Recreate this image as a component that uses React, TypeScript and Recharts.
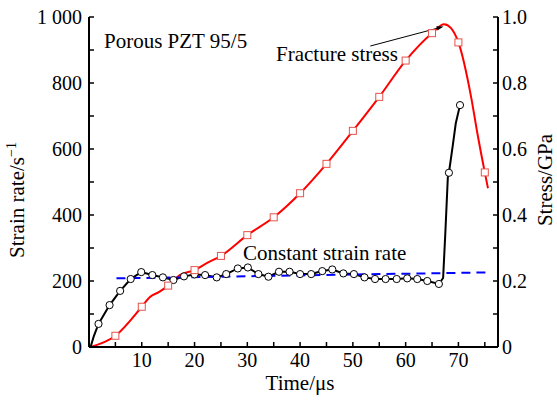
import { ComposedChart, Line, Scatter, XAxis, YAxis, ReferenceLine } from "recharts";

const FONT = '"Liberation Serif", "Times New Roman", serif';

// strain rate (left axis), black line
const strainLineTime = [0.3, 0.9, 1.8, 3.9, 5.9, 7.9, 9.9, 12, 14, 16, 18, 20, 22, 24.2, 26, 28.2, 30.1, 32.1, 34, 36, 38, 40, 42.1, 44.2, 46.1, 48.2, 50.2, 52.2, 54.2, 56.2, 58.3, 60.3, 62.2, 64.1, 66.3, 67.1, 67.5, 68.0, 68.2, 68.9, 69.5, 70.3];
const strainLineRate = [0, 32, 70, 127, 170, 206, 227, 218, 211, 203, 214, 220, 218, 211, 221, 238, 241, 221, 213, 228, 228, 221, 221, 230, 235, 223, 221, 211, 206, 206, 206, 208, 206, 200, 191, 209, 339, 516, 528, 607, 678, 733];

// open circle markers on the strain rate curve
const strainCircleTime = [1.8, 3.9, 5.9, 7.9, 9.9, 12, 14, 16, 18, 20, 22, 24.2, 26, 28.2, 30.1, 32.1, 34, 36, 38, 40, 42.1, 44.2, 46.1, 48.2, 50.2, 52.2, 54.2, 56.2, 58.3, 60.3, 62.2, 64.1, 66.3, 68.2, 70.3];
const strainCircleRate = [70, 127, 170, 206, 227, 218, 211, 203, 214, 220, 218, 211, 221, 238, 241, 221, 213, 228, 228, 221, 221, 230, 235, 223, 221, 211, 206, 206, 206, 208, 206, 200, 191, 528, 733];

// stress (right axis), red line
const stressLineTime = [0.3, 5, 10, 11.5, 13.3, 15, 17.2, 20, 22.3, 25, 30, 35, 40, 45, 50, 55, 60, 65, 67.3, 68.6, 70, 72.4, 73.6, 75, 75.6];
const stressLineValue = [0, 0.034, 0.122, 0.151, 0.167, 0.186, 0.218, 0.233, 0.254, 0.276, 0.339, 0.393, 0.466, 0.555, 0.655, 0.758, 0.868, 0.951, 0.978, 0.966, 0.923, 0.758, 0.647, 0.529, 0.481];

// square markers on the stress curve
const stressSquareTime = [5, 10, 15, 20, 25, 30, 35, 40, 45, 50, 55, 60, 65, 70, 75];
const stressSquareValue = [0.034, 0.122, 0.186, 0.233, 0.276, 0.339, 0.393, 0.466, 0.555, 0.655, 0.758, 0.868, 0.951, 0.923, 0.529];

// constant strain rate (dashed blue)
const constTime = [5.2, 75.2];
const constRate = [208, 226];

// fracture stress pointer (start, peak)
const pointerTime = [53.3, 67.2];
const pointerStress = [0.912, 0.971];

const timeTicks = [5, 10, 15, 20, 25, 30, 35, 40, 45, 50, 55, 60, 65, 70, 75];
const rateTicks = [0, 100, 200, 300, 400, 500, 600, 700, 800, 900, 1000];
const stressTicks = [0, 0.1, 0.2, 0.3, 0.4, 0.5, 0.6, 0.7, 0.8, 0.9, 1.0];

const pairs = (ts: number[], vs: number[]) => ts.map((t, i) => ({ t, v: vs[i] }));

const strainLine = pairs(strainLineTime, strainLineRate);
const strainCircles = pairs(strainCircleTime, strainCircleRate);
const stressLine = pairs(stressLineTime, stressLineValue);
const stressSquares = pairs(stressSquareTime, stressSquareValue);
const constLine = pairs(constTime, constRate);

const fmtTime = (v: number) => (v % 10 === 0 ? String(v) : "");
const fmtRate = (v: number) => (v % 200 !== 0 ? "" : v === 1000 ? "1 000" : String(v));
const fmtStress = (v: number) => {
  const k = Math.round(v * 10);
  if (k % 2 !== 0) return "";
  return k === 0 ? "0" : v.toFixed(1);
};

const axisLine = { stroke: "#000", strokeWidth: 2 };
const tickLine = { stroke: "#000", strokeWidth: 1.5 };

// serif tick labels drawn by hand so the font sticks
const makeTick = (fmt: (v: number) => string, anchor: string, dy: string) => (p: any) => (
  <text
    x={p.x}
    y={p.y}
    dy={dy}
    textAnchor={anchor}
    fontFamily={FONT}
    fontSize={20}
    fill="#000"
    style={{ whiteSpace: "pre" }}
  >
    {fmt(p.payload.value)}
  </text>
);

const TimeTick = makeTick(fmtTime, "middle", "0.71em");
const RateTick = makeTick(fmtRate, "end", "0.36em");
const StressTick = makeTick(fmtStress, "start", "0.36em");

const Circle = (p: any) => (
  <circle cx={p.cx} cy={p.cy} r={3.6} fill="#fff" stroke="#000" strokeWidth={1} />
);

const Square = (p: any) => (
  <rect x={p.cx - 3.5} y={p.cy - 3.5} width={7} height={7} fill="#fff" stroke="#e5534b" strokeWidth={1} />
);

const Pointer = (p: any) => {
  const { x1, y1, x2, y2 } = p;
  const ang = Math.atan2(y2 - y1, x2 - x1);
  const len = 7;
  const w = 2.2;
  const bx = x2 - len * Math.cos(ang);
  const by = y2 - len * Math.sin(ang);
  const px = -Math.sin(ang) * w;
  const py = Math.cos(ang) * w;
  return (
    <g>
      <line x1={x1} y1={y1} x2={bx} y2={by} stroke="#000" strokeWidth={1} />
      <polygon points={`${x2},${y2} ${bx + px},${by + py} ${bx - px},${by - py}`} fill="#000" />
    </g>
  );
};

export default function App() {
  return (
    <div
      style={{
        position: "absolute",
        left: 0,
        top: 0,
        width: 557,
        height: 401,
        background: "#fff",
        fontFamily: FONT,
      }}
    >
      <ComposedChart width={557} height={401} margin={{ top: 17, right: 0, bottom: 0, left: 0 }}>
        <XAxis
          xAxisId="bottom"
          dataKey="t"
          type="number"
          domain={[0, 77.5]}
          allowDataOverflow
          ticks={timeTicks}
          height={54}
          tickSize={-5}
          tickMargin={11}
          axisLine={axisLine}
          tickLine={tickLine}
          tick={TimeTick}
          interval={0}
        />
        <XAxis
          xAxisId="top"
          orientation="top"
          dataKey="t"
          type="number"
          domain={[0, 77.5]}
          allowDataOverflow
          ticks={timeTicks}
          height={0}
          tickSize={-5}
          axisLine={axisLine}
          tickLine={tickLine}
          tick={false}
          interval={0}
        />
        <YAxis
          yAxisId="left"
          type="number"
          domain={[0, 1000]}
          ticks={rateTicks}
          width={89}
          tickSize={-5}
          tickMargin={12}
          axisLine={axisLine}
          tickLine={tickLine}
          tick={RateTick}
          interval={0}
        />
        <YAxis
          yAxisId="right"
          orientation="right"
          type="number"
          domain={[0, 1]}
          ticks={stressTicks}
          width={59}
          tickSize={-5}
          tickMargin={9}
          axisLine={axisLine}
          tickLine={tickLine}
          tick={StressTick}
          interval={0}
        />
        <Line
          xAxisId="bottom"
          yAxisId="right"
          data={stressLine}
          dataKey="v"
          type="monotone"
          stroke="#ff0000"
          strokeWidth={2}
          dot={false}
          isAnimationActive={false}
        />
        <Line
          xAxisId="bottom"
          yAxisId="left"
          data={strainLine}
          dataKey="v"
          type="linear"
          stroke="#000"
          strokeWidth={2}
          dot={false}
          isAnimationActive={false}
        />
        <Line
          xAxisId="bottom"
          yAxisId="left"
          data={constLine}
          dataKey="v"
          type="linear"
          stroke="#0000ff"
          strokeWidth={2}
          strokeDasharray="9 6"
          dot={false}
          isAnimationActive={false}
        />
        <Scatter
          xAxisId="bottom"
          yAxisId="left"
          data={strainCircles}
          dataKey="v"
          shape={Circle}
          isAnimationActive={false}
        />
        <Scatter
          xAxisId="bottom"
          yAxisId="right"
          data={stressSquares}
          dataKey="v"
          shape={Square}
          isAnimationActive={false}
        />
        <ReferenceLine
          xAxisId="bottom"
          yAxisId="right"
          segment={[
            { x: pointerTime[0], y: pointerStress[0] },
            { x: pointerTime[1], y: pointerStress[1] },
          ]}
          shape={Pointer}
          ifOverflow="visible"
        />
      </ComposedChart>
      <svg
        width={557}
        height={401}
        style={{ position: "absolute", left: 0, top: 0, pointerEvents: "none" }}
        fontFamily={FONT}
        fontSize={21}
      >
        <text x={104} y={48}>Porous PZT 95/5</text>
        <text x={276} y={60.5}>Fracture stress</text>
        <text x={243} y={260}>Constant strain rate</text>
        <text x={300} y={390} textAnchor="middle">Time/μs</text>
        <text x={24} y={200} textAnchor="middle" transform="rotate(-90 24 200)">
          Strain rate/s<tspan dy={-8} fontSize={14}>−1</tspan>
        </text>
        <text x={552} y={180} textAnchor="middle" transform="rotate(-90 552 180)">
          Stress/GPa
        </text>
      </svg>
    </div>
  );
}
